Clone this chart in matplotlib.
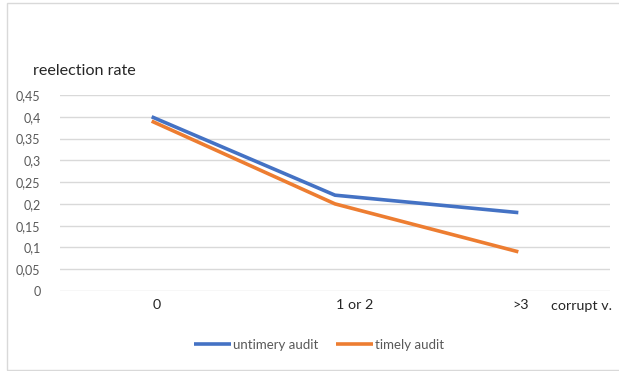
import matplotlib
matplotlib.use("Agg")
import matplotlib.pyplot as plt
from matplotlib.patches import Rectangle
from matplotlib.transforms import ScaledTranslation
import numpy as np

categories = ["0", "1 or 2", ">3"]
untimely_audit = [0.40, 0.22, 0.18]
timely_audit = [0.39, 0.20, 0.09]
y_ticks = [0, 0.05, 0.10, 0.15, 0.20, 0.25, 0.30, 0.35, 0.40, 0.45]
y_tick_labels = ["0", "0,05", "0,1", "0,15", "0,2", "0,25", "0,3", "0,35", "0,4", "0,45"]

plt.rcParams["font.family"] = ["Lato", "DejaVu Sans"]

W, H = 619, 371
fig = plt.figure(figsize=(W / 100, H / 100), dpi=100)

# chart frame
fig.patches.append(Rectangle((7 / W, 1 - 370 / H), 1.2, (370 - 3) / H,
                             transform=fig.transFigure, fill=False,
                             edgecolor="#d9d9d9", linewidth=1.0))

ax = fig.add_axes([60 / W, 1 - 291 / H, 550 / W, (291 - 95) / H])
x = np.arange(len(categories))
ax.plot(x, untimely_audit, color="#4472c4", linewidth=2.6, label="untimery audit",
        solid_capstyle="butt", zorder=3)
ax.plot(x, timely_audit, color="#ed7d31", linewidth=2.6, label="timely audit",
        solid_capstyle="butt", zorder=3)

ax.set_xlim(-0.5, len(categories) - 0.5)
ax.set_ylim(0, 0.45)
ax.set_yticks(y_ticks)
ax.set_yticklabels(y_tick_labels, color="#595959", fontsize=9)
ax.set_xticks(x)
ax.set_xticklabels(categories, color="#262626", fontsize=10.3)
ax.tick_params(axis="both", length=0)
ax.tick_params(axis="y", pad=14)
ax.tick_params(axis="x", pad=6)
for lab, dx in zip(ax.get_xticklabels(), [5, 20, 2]):
    lab.set_transform(lab.get_transform() + ScaledTranslation(dx / 100, 0, fig.dpi_scale_trans))
ax.grid(axis="y", color="#d9d9d9", linewidth=1.0)
ax.set_axisbelow(True)
for s in ax.spines.values():
    s.set_visible(False)

fig.text(33 / W, 1 - 71 / H, "reelection rate", fontsize=11.6, color="#262626",
         ha="left", va="center")
fig.text(551 / W, 1 - 306 / H, "corrupt v.", fontsize=10.3, color="#262626",
         ha="left", va="center")

leg = fig.legend(loc="center", bbox_to_anchor=(319 / W, 1 - 345 / H), ncol=2,
                 frameon=False, fontsize=9.5, handlelength=2.8, handletextpad=0.1,
                 columnspacing=1.4)
for t in leg.get_texts():
    t.set_color("#595959")

fig.savefig("out.png", dpi=100)
